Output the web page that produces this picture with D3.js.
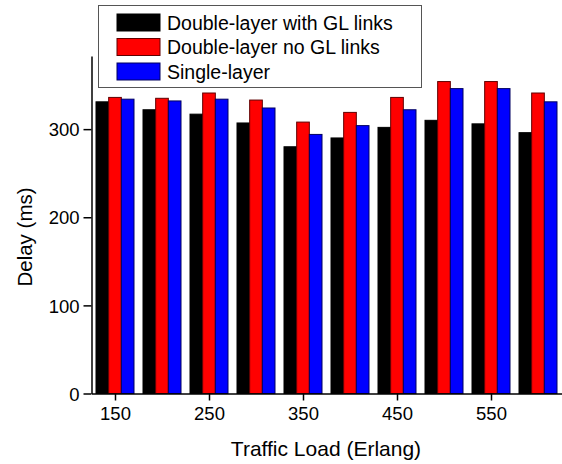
<!DOCTYPE html>
<meta charset="utf-8">
<style>
    body { margin: 0; background: #fff; }
    svg text { font-family: "Liberation Sans", Arial, sans-serif; fill: #000; }
    .axis path, .axis line { stroke: #000; stroke-width: 1.5px; fill: none; }
</style>
<svg width="562" height="464"></svg>
<script src="https://cdn.jsdelivr.net/npm/d3@7"></script>
<script>
    var loads = [150, 200, 250, 300, 350, 400, 450, 500, 550, 600];
    var withGL = [331, 322, 317, 307, 280, 290, 302, 310, 306, 296];
    var noGL = [336, 335, 341, 333, 308, 319, 336, 354, 354, 341];
    var single = [334, 332, 334, 324, 294, 304, 322, 346, 346, 331];
    var seriesNames = ["Double-layer with GL links", "Double-layer no GL links", "Single-layer"];
    var xTicks = [150, 250, 350, 450, 550];
    var yTicks = [0, 100, 200, 300];

    var fills = ["#000000", "#ff0000", "#0000ff"];
    var strokes = ["#000000", "#600000", "#000060"];
    var seriesVals = [withGL, noGL, single];

    var svg = d3.select("svg");
    var x = d3.scaleLinear().domain([125, 625]).range([91.5, 561.5]);
    var y = d3.scaleLinear().domain([0, 383]).range([393.5, 56]);
    var sub = d3.scaleBand().domain([0, 1, 2]).range([-19, 19]);

    // bars
    seriesVals.forEach(function(vals, s) {
        svg.append("g").selectAll("rect")
            .data(loads)
            .enter().append("rect")
            .attr("x", function(d) { return x(d) + sub(s); })
            .attr("width", sub.bandwidth())
            .attr("y", function(d, i) { return y(vals[i]); })
            .attr("height", function(d, i) { return y(0) - y(vals[i]); })
            .attr("fill", fills[s])
            .attr("stroke", strokes[s])
            .attr("stroke-width", 1);
    });

    // x axis
    var gx = svg.append("g").attr("class", "axis")
        .attr("transform", "translate(0," + y(0) + ")");
    gx.call(d3.axisBottom(x).tickValues(loads.filter(function(d) { return d % 100 === 0; }))
        .tickSize(4).tickFormat(""));
    gx.call(d3.axisBottom(x).tickValues(xTicks).tickSize(7).tickPadding(6).tickSizeOuter(0));
    gx.selectAll("text").style("font-size", "18.5px");

    // y axis
    var gy = svg.append("g").attr("class", "axis")
        .attr("transform", "translate(" + x(125) + ",0)");
    gy.call(d3.axisLeft(y).tickValues([50, 150, 250, 350]).tickSize(4).tickFormat(""));
    gy.call(d3.axisLeft(y).tickValues(yTicks).tickSize(8).tickPadding(4).tickSizeOuter(0));
    gy.selectAll("text").style("font-size", "18.5px").attr("dy", "0.36em");

    // titles
    svg.append("text").attr("x", 326).attr("y", 456)
        .attr("text-anchor", "middle").style("font-size", "21px")
        .text("Traffic Load (Erlang)");
    svg.append("text").attr("transform", "translate(32,237) rotate(-90)")
        .attr("text-anchor", "middle").style("font-size", "20.5px")
        .text("Delay (ms)");

    // legend
    var lg = svg.append("g");
    lg.append("rect").attr("x", 98.5).attr("y", 5.5).attr("width", 323).attr("height", 82)
        .attr("fill", "#fff").attr("stroke", "#555").attr("stroke-width", 1);
    seriesNames.forEach(function(name, s) {
        var yy = 14 + s * 24.5;
        lg.append("rect").attr("x", 117).attr("y", yy).attr("width", 43).attr("height", 17)
            .attr("fill", fills[s]).attr("stroke", strokes[s]).attr("stroke-width", 1);
        lg.append("text").attr("x", 167).attr("y", yy + 15.5).style("font-size", "19.5px").text(name);
    });
</script>
